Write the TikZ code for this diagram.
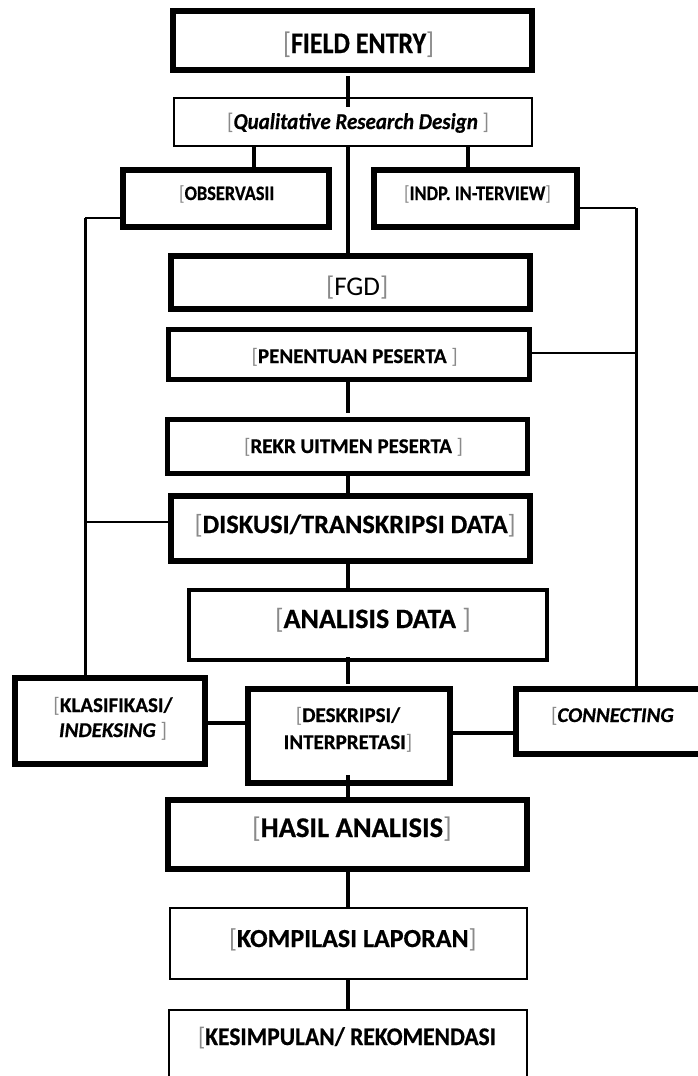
\documentclass[tikz,border=0pt]{standalone}
\usepackage{graphicx}
\usepackage{fontspec}
\setmainfont{Carlito}[BoldFeatures={FakeBold=0.6},BoldItalicFeatures={FakeBold=0.6}]
\definecolor{bkgray}{HTML}{8A8A8A}
\newcommand{\lbk}{{\mdseries\upshape\color{bkgray}[}}
\newcommand{\rbk}{{\mdseries\upshape\color{bkgray}]}}
\newcommand{\fsz}[1]{\fontsize{#1}{#1}\selectfont}
\newcommand{\vs}[2]{\scalebox{1}[#1]{#2}}
\begin{document}
\begin{tikzpicture}[x=1pt,y=-1pt,
  thickbox/.style={draw, rectangle, line width=6pt, inner sep=0pt, outer sep=0pt},
  medbox/.style={draw, rectangle, line width=4pt, inner sep=0pt, outer sep=0pt},
  thinbox/.style={draw, rectangle, line width=1.5pt, inner sep=0pt, outer sep=0pt},
  lbl/.style={inner sep=0pt, outer sep=0pt, anchor=base west, text=black},
  vline/.style={line width=4pt},
  sline/.style={line width=2pt},
  tline/.style={line width=3pt}]
\useasboundingbox (0,0) rectangle (698,1076);
\clip (0,0) rectangle (698,1076);
\coordinate (cx) at (348,0);
% boxes
\node[thickbox, minimum width=359pt, minimum height=59pt] (field) at (352.5,40.5) {};
\node[thinbox, minimum width=358pt, minimum height=48pt] (qrd) at (353,122) {};
\node[thickbox, minimum width=206pt, minimum height=57pt] (obs) at (226,198.5) {};
\node[thickbox, minimum width=203pt, minimum height=57pt] (indp) at (475.5,198.5) {};
\node[thickbox, minimum width=359pt, minimum height=53pt] (fgd) at (350.5,282.5) {};
\node[thickbox, line width=5pt, minimum width=361pt, minimum height=50pt] (pen) at (349,354.5) {};
\node[thickbox, line width=5pt, minimum width=360pt, minimum height=54pt] (rekr) at (347.5,446.5) {};
\node[thickbox, minimum width=359pt, minimum height=65pt] (disk) at (350.5,528.5) {};
\node[medbox, minimum width=358pt, minimum height=70pt] (anal) at (368,625) {};
\node[thickbox, minimum width=202pt, minimum height=94pt] (desk) at (349,736) {};
\node[thickbox, minimum width=190pt, minimum height=86pt] (klas) at (110,721) {};
\node[thickbox, minimum width=244pt, minimum height=65pt] (conn) at (638,721.5) {};
\node[thickbox, minimum width=359pt, minimum height=69pt] (hasil) at (347.5,834.5) {};
\node[thinbox, minimum width=357pt, minimum height=71pt] (komp) at (348.5,943.5) {};
\node[thinbox, minimum width=358pt, minimum height=110pt] (kesi) at (348,1065) {};
% labels
\node[lbl, font=\bfseries\fsz{26}] (tfield) at (283,53) {\vs{1.15}{\lbk FIELD ENTRY\rbk}};
\node[lbl, font=\bfseries\itshape\fsz{21}] (tqrd) at (227,129) {\vs{1.08}{\lbk Qualitative Research Design \rbk}};
\node[lbl, font=\bfseries\fsz{18.3}] (tobs) at (179,200) {\vs{1.12}{\lbk OBSERVASII}};
\node[lbl, font=\bfseries\fsz{18.3}] (tindp) at (404,200) {\vs{1.12}{\lbk INDP. IN-TERVIEW\rbk}};
\node[lbl, font=\fsz{27}] (tfgd) at (326,295) {\lbk FGD\rbk};
\node[lbl, font=\bfseries\fsz{21}] (tpen) at (251.5,363) {\lbk PENENTUAN PESERTA \rbk};
\node[lbl, font=\bfseries\fsz{21}] (trekr) at (244,453) {\lbk REKR UITMEN PESERTA \rbk};
\node[lbl, font=\bfseries\fsz{26.4}] (tdisk) at (194.5,533) {\lbk DISKUSI/TRANSKRIPSI DATA\rbk};
\node[lbl, font=\bfseries\fsz{28}] (tanal) at (275,628) {\lbk ANALISIS DATA \rbk};
\node[inner sep=0pt, anchor=base, align=center, font=\bfseries\fontsize{21}{25}\selectfont] (tklas) at (113,737) {\lbk KLASIFIKASI/\\ \textit{INDEKSING} \rbk};
\node[inner sep=0pt, anchor=base, align=center, font=\bfseries\fontsize{21}{27}\selectfont] (tdesk) at (348,749) {\lbk DESKRIPSI/\\ INTERPRETASI\rbk};
\node[lbl, font=\bfseries\itshape\fsz{21}] (tconn) at (551,722) {\lbk CONNECTING};
\node[lbl, font=\bfseries\fsz{28.5}] (thasil) at (252,837) {\lbk HASIL ANALISIS\rbk};
\node[lbl, font=\bfseries\fsz{26}] (tkomp) at (229,947) {\lbk KOMPILASI LAPORAN\rbk};
\node[lbl, font=\bfseries\fsz{23.5}] (tkesi) at (198,1045) {\vs{1.08}{\lbk KESIMPULAN/ REKOMENDASI}};
% side coordinates
\coordinate (lc) at (85,218);
\coordinate (ld) at (85,522);
\coordinate (rc) at (636,208);
\coordinate (rp) at (636,353);
% main spine
\draw[vline, shorten <=6pt, shorten >=-9pt] (field.south -| cx) -- (qrd.north -| cx);
\draw[vline] (qrd.south -| cx) -- (fgd.north -| cx);
\draw[vline] (qrd.south -| 254,0) -- (obs.north -| 254,0);
\draw[vline] (qrd.south -| 468,0) -- (indp.north -| 468,0);
\draw[vline, shorten >=7pt] (pen.south -| cx) -- (rekr.north -| cx);
\draw[vline] (rekr.south -| cx) -- (disk.north -| cx);
\draw[vline] (disk.south -| cx) -- (anal.north -| cx);
\draw[vline, shorten <=-3pt, shorten >=5pt] (anal.south -| cx) -- (desk.north -| cx);
\draw[vline, shorten <=-8pt] (desk.south -| cx) -- (hasil.north -| cx);
\draw[vline] (hasil.south -| cx) -- (komp.north -| cx);
\draw[vline] (komp.south -| cx) -- (kesi.north -| cx);
% left branch
\draw[sline] (obs.west |- lc) -- (lc);
\draw[tline] (lc) -- (klas.north -| lc);
\draw[sline] (disk.west |- ld) -- (ld);
% right branch
\draw[sline] (indp.east |- rc) -- (rc);
\draw[tline] (rc) -- (conn.north -| rc);
\draw[sline] (pen.east |- rp) -- (rp);
% bottom horizontals
\draw[tline, line width=3.5pt] (klas.east |- 0,723) -- (desk.west |- 0,723);
\draw[tline, line width=3.5pt] (desk.east |- 0,733) -- (conn.west |- 0,733);
\end{tikzpicture}
\end{document}
